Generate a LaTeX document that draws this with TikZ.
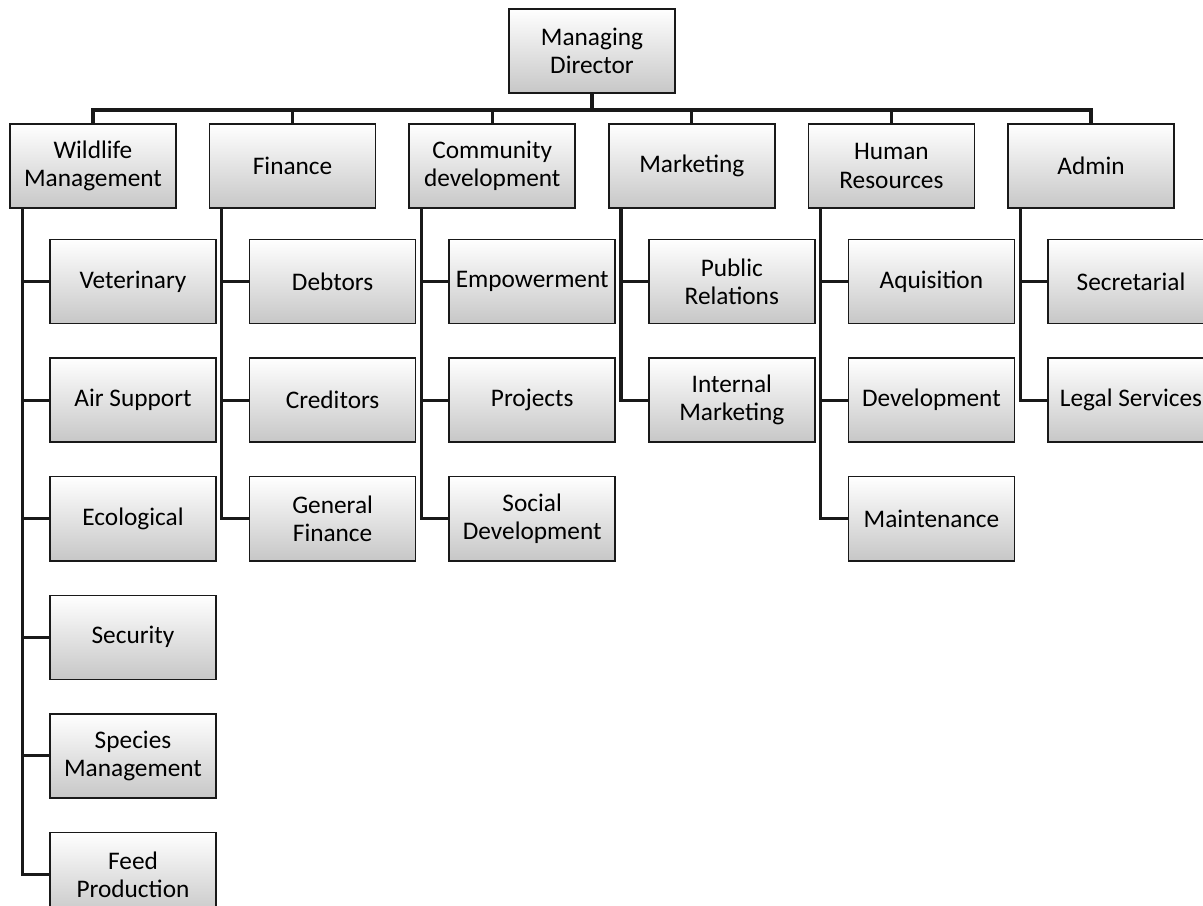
\documentclass[tikz,border=0pt]{standalone}
\usepackage{fontspec}
\setmainfont{Carlito}
\usepackage{xcolor}
\usepackage{tikz}
\usetikzlibrary{positioning}

\begin{document}
\begin{tikzpicture} [x=0.025cm, y=-0.025cm,
	   unitbox/.style = {rectangle, minimum width=4.15cm, minimum height=2.1cm,
	                     inner sep=2pt, line width=1.1pt, draw=black!90,
	                     top color=white, bottom color=black!22,
	                     align=center, text=black, font=\fontsize{18}{20}\selectfont},
	   link/.style = {line width=2.2pt, draw=black!90}]
	\useasboundingbox (0,0) rectangle (1203,906);
	%% Top
	\node [unitbox] (md) at (592,51) {Managing\\Director};
	\coordinate (bus) at (592,110);
	%% Departments
	\node [unitbox] (wm) at (93,166) {Wildlife\\Management};
	\node [unitbox,right=0.8cm of wm] (fin) {Finance};
	\node [unitbox,right=0.8cm of fin] (cd) {Community\\development};
	\node [unitbox,right=0.8cm of cd] (mkt) {Marketing};
	\node [unitbox,right=0.8cm of mkt] (hr) {Human\\Resources};
	\node [unitbox,right=0.8cm of hr] (adm) {Admin};
	%% Wildlife Management
	\node [unitbox,below=0.75cm of wm.south,xshift=1cm] (vet) {Veterinary};
	\node [unitbox,below=0.825cm of vet] (air) {Air Support};
	\node [unitbox,below=0.825cm of air] (eco) {Ecological};
	\node [unitbox,below=0.825cm of eco] (sec) {Security};
	\node [unitbox,below=0.825cm of sec] (spm) {Species\\Management};
	\node [unitbox,below=0.825cm of spm] (feed) {Feed\\Production};
	%% Finance
	\node [unitbox,below=0.75cm of fin.south,xshift=1cm] (deb) {Debtors};
	\node [unitbox,below=0.825cm of deb] (cred) {Creditors};
	\node [unitbox,below=0.825cm of cred] (gfin) {General\\Finance};
	%% Community development
	\node [unitbox,below=0.75cm of cd.south,xshift=1cm] (emp) {Empowerment};
	\node [unitbox,below=0.825cm of emp] (proj) {Projects};
	\node [unitbox,below=0.825cm of proj] (soc) {Social\\Development};
	%% Marketing
	\node [unitbox,below=0.75cm of mkt.south,xshift=1cm] (pr) {Public\\Relations};
	\node [unitbox,below=0.825cm of pr] (imkt) {Internal\\Marketing};
	%% Human Resources
	\node [unitbox,below=0.75cm of hr.south,xshift=1cm] (aqu) {Aquisition};
	\node [unitbox,below=0.825cm of aqu] (dev) {Development};
	\node [unitbox,below=0.825cm of dev] (mnt) {Maintenance};
	%% Admin
	\node [unitbox,below=0.75cm of adm.south,xshift=1cm] (secr) {Secretarial};
	\node [unitbox,below=0.825cm of secr] (legal) {Legal Services};
	%% Connectors
	\draw [link] (md.south) -- (bus);
	\draw [link] (wm.north) |- (bus -| adm.north) -- (adm.north);
	\foreach \p in {fin,cd,mkt,hr}
		\draw [link] (\p.north) -- (\p.north |- bus);
	\foreach \p/\last/\kids in {wm/feed/{vet,air,eco,sec,spm},
	                            fin/gfin/{deb,cred},
	                            cd/soc/{emp,proj},
	                            mkt/imkt/{pr},
	                            hr/mnt/{aqu,dev},
	                            adm/legal/{secr}} {
		\coordinate (\p t) at ([xshift=0.325cm]\p.south west);
		\draw [link] (\p t) |- (\last.west);
		\foreach \c in \kids
			\draw [link] (\c.west) -- (\c.west -| \p t);
	}
\end{tikzpicture}
\end{document}
